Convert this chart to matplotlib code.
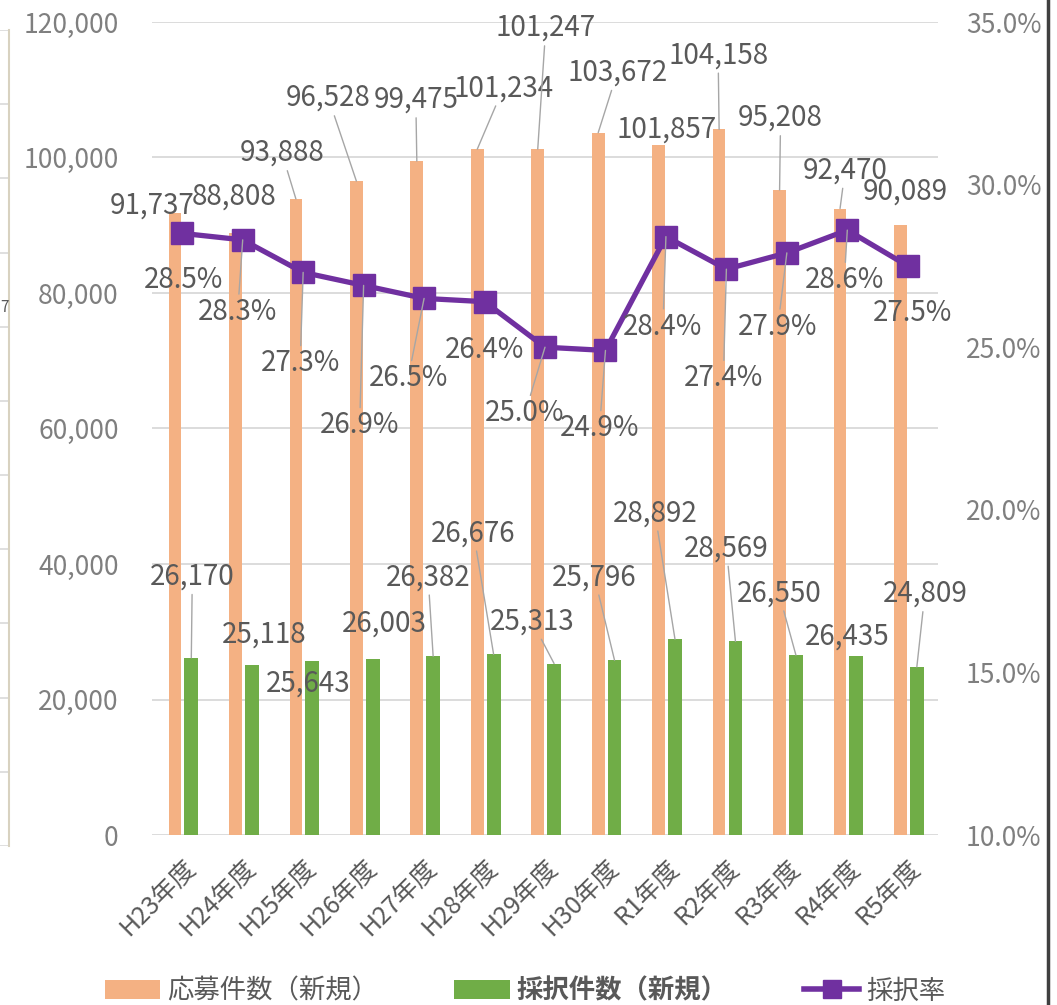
import matplotlib
matplotlib.use("Agg")
import matplotlib.pyplot as plt
from matplotlib.lines import Line2D
from matplotlib.patches import Patch
from matplotlib.ticker import FuncFormatter, MultipleLocator
import numpy as np

plt.rcParams["font.family"] = ["Noto Sans CJK JP", "DejaVu Sans"]

years = ["H23年度", "H24年度", "H25年度", "H26年度", "H27年度", "H28年度", "H29年度",
         "H30年度", "R1年度", "R2年度", "R3年度", "R4年度", "R5年度"]
applications = [91737, 88808, 93888, 96528, 99475, 101234, 101247,
                103672, 101857, 104158, 95208, 92470, 90089]
adopted = [26170, 25118, 25643, 26003, 26382, 26676, 25313,
           25796, 28892, 28569, 26550, 26435, 24809]
rate = [28.5, 28.3, 27.3, 26.9, 26.5, 26.4, 25.0, 24.9, 28.4, 27.4, 27.9, 28.6, 27.5]

# label placement: pixel offset (dx, dy up) from the point, and whether a leader line is drawn
app_offsets = [(-23, 8), (-1, 37), (-14, 46), (-28, 83), (-1, 61), (26, 61), (8, 121),
               (19, 60), (8, 15), (-1, 74), (1, 72), (5, 38), (5, 33)]
app_leader = [0, 0, 1, 1, 1, 1, 1, 1, 0, 1, 1, 1, 0]
adp_offsets = [(1, 81), (12, 30), (-4, -22), (12, 35), (-5, 79), (-20, 121), (-22, 42),
               (-20, 83), (-20, 126), (-9, 93), (-17, 62), (-9, 19), (8, 73)]
adp_leader = [1, 0, 0, 0, 1, 1, 1, 1, 1, 1, 1, 0, 1]
rate_offsets = [(1, -47), (-5, -72), (-3, -91), (-4, -140), (-16, -80), (0, -48), (-20, -66),
                (-6, -78), (-3, -90), (-3, -109), (-9, -74), (-3, -50), (5, -47)]
rate_leader = [0, 1, 1, 1, 1, 0, 1, 1, 1, 1, 1, 1, 0]

ORANGE = "#F4B183"
GREEN = "#70AD47"
PURPLE = "#7030A0"
LABEL = "#595959"
TICK = "#7F7F7F"
GRID = "#D9D9D9"

W, H = 1057, 1005
fig = plt.figure(figsize=(W / 100, H / 100), dpi=100)
ax = fig.add_axes([152 / W, (H - 835) / H, 786 / W, 813 / H])

x = np.arange(len(years))
ax.bar(x - 0.12, applications, width=0.21, color=ORANGE, zorder=2)
ax.bar(x + 0.15, adopted, width=0.23, color=GREEN, zorder=2)
ax.set_xlim(-0.5, len(years) - 0.5)
ax.set_ylim(0, 120000)
ax.yaxis.set_major_locator(MultipleLocator(20000))
ax.yaxis.set_major_formatter(FuncFormatter(lambda v, p: f"{int(v):,}"))
ax.grid(axis="y", color=GRID, lw=1.3, zorder=0)
for s in ax.spines.values():
    s.set_visible(False)
ax.tick_params(axis="y", length=0, pad=24, labelsize=19, labelcolor=TICK)
ax.tick_params(axis="x", length=0, pad=14, labelsize=18, labelcolor=LABEL)
ax.set_xticks(x)
ax.set_xticklabels(years, rotation=45, ha="right", va="top", rotation_mode="anchor")

ax2 = ax.twinx()
ax2.plot(x, rate, color=PURPLE, lw=3.8, marker="s", ms=16, zorder=2)
ax2.set_ylim(10, 35)
ax2.yaxis.set_major_locator(MultipleLocator(5))
ax2.yaxis.set_major_formatter(FuncFormatter(lambda v, p: f"{v:.1f}%"))
for s in ax2.spines.values():
    s.set_visible(False)
ax2.tick_params(axis="y", length=0, pad=20, labelsize=19, labelcolor=TICK)

leader = dict(arrowstyle="-", color="#A6A6A6", lw=1.0, shrinkA=0, shrinkB=0)


def label(text, xy, coords, off, lead):
    ax2.annotate(text, xy=xy, xycoords=coords, xytext=off, textcoords="offset pixels",
                 ha="center", va="center", fontsize=20, color=LABEL,
                 arrowprops=leader if lead else None, zorder=5)


for i in range(len(years)):
    label(f"{applications[i]:,}", (x[i] - 0.12, applications[i]), ax.transData,
          app_offsets[i], app_leader[i])
    label(f"{adopted[i]:,}", (x[i] + 0.15, adopted[i]), ax.transData,
          adp_offsets[i], adp_leader[i])
    label(f"{rate[i]:.1f}%", (x[i], rate[i]), ax2.transData,
          rate_offsets[i], rate_leader[i])

handles = [Patch(facecolor=ORANGE), Patch(facecolor=GREEN),
           Line2D([0], [0], color=PURPLE, lw=4, marker="s", ms=13)]
leg = fig.legend(handles, ["応募件数（新規）", "採択件数（新規）", "採択率"], ncol=3,
                 loc="center", bbox_to_anchor=(525 / W, 14 / H), frameon=False,
                 fontsize=19, labelcolor=LABEL, handlelength=2.1, handleheight=0.75,
                 handletextpad=0.25, columnspacing=2.9)
leg.get_texts()[1].set_fontweight("bold")

# sliver of the neighbouring chart on the left edge and the window border on the right
side = fig.add_axes([0, (H - 846) / H, 9 / W, 816 / H])
side.set_xlim(0, 1)
side.set_ylim(0, 11)
for k in range(12):
    side.axhline(k, color=GRID, lw=1.2)
for s in ["top", "bottom", "left"]:
    side.spines[s].set_visible(False)
side.spines["right"].set_color("#D8D2C0")
side.spines["right"].set_linewidth(1.5)
side.set_xticks([])
side.set_yticks([])
fig.text(0.5 / W, (H - 307) / H, "7", ha="left", va="center", fontsize=11, color=LABEL)
fig.add_artist(Line2D([1047.5 / W] * 2, [0, 1], transform=fig.transFigure,
                      color="#3F3F3F", lw=2.5))

fig.savefig("out.png", dpi=100)
